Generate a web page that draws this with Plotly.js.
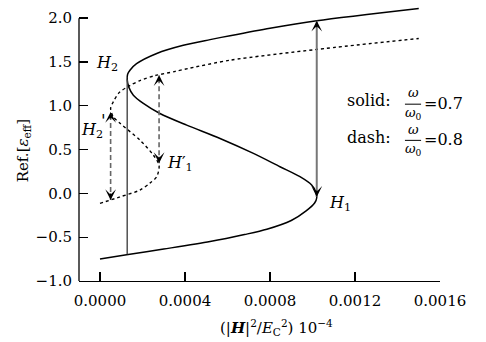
<!DOCTYPE html>
<html>
<head>
<meta charset="utf-8">
<script src="https://cdn.plot.ly/plotly-3.0.1.min.js"></script>
<style>html,body{margin:0;padding:0;background:#fff;}#chart{width:486px;height:342px;}</style>
</head>
<body>
<div id="chart"></div>
<script>
// Solid curve (omega/omega0 = 0.7), ordered along the curve
var solidX = [0.0, 0.000125, 0.00030, 0.000518, 0.00068, 0.000785, 0.00090, 0.00097, 0.00101, 0.00102, 0.001015, 0.000996, 0.000941, 0.000847, 0.000722, 0.000565, 0.000408, 0.000282, 0.000204, 0.000157, 0.000136, 0.000128, 0.000130, 0.000141, 0.000172, 0.000267, 0.000392, 0.000518, 0.000612, 0.0008, 0.00102, 0.0015];
var solidY = [-0.75, -0.70, -0.635, -0.55, -0.47, -0.41, -0.31, -0.20, -0.11, -0.05, 0.02, 0.095, 0.19, 0.304, 0.456, 0.627, 0.779, 0.912, 1.027, 1.121, 1.21, 1.30, 1.36, 1.406, 1.48, 1.597, 1.69, 1.755, 1.80, 1.885, 1.97, 2.11];
// Dashed curve (omega/omega0 = 0.8)
var dashX = [0.0, 0.000094, 0.000188, 0.000235, 0.000267, 0.000278, 0.000251, 0.000188, 0.000094, 0.0000627, 0.00005, 0.0000627, 0.00009, 0.00014, 0.00019, 0.00026, 0.00035, 0.000424, 0.000612, 0.00102, 0.0015];
var dashY = [-0.114, -0.04, 0.038, 0.117, 0.19, 0.32, 0.437, 0.608, 0.80, 0.874, 0.97, 1.045, 1.15, 1.23, 1.29, 1.345, 1.39, 1.43, 1.52, 1.643, 1.768];
// Jump lines / arrows: x, bottom y, top y
var jumpX    = [0.000128, 0.00102, 0.00005, 0.000278];
var jumpLow  = [-0.696, -0.04, -0.076, 0.345];
var jumpHigh = [1.30, 1.97, 0.93, 1.35];
var jumpHeads = [false, true, true, true];
var jumpDashed = [false, false, true, true];
// Tick labels
var xTicks = [0, 0.0004, 0.0008, 0.0012, 0.0016];
var xTickText = ['0.0000', '0.0004', '0.0008', '0.0012', '0.0016'];
var yTicks = [-1.0, -0.5, 0.0, 0.5, 1.0, 1.5, 2.0];
var yTickText = ['\u22121.0', '\u22120.5', '0.0', '0.5', '1.0', '1.5', '2.0'];

var FONT = 'DejaVu Serif, Liberation Serif, serif';

var traces = [
  {x: solidX, y: solidY, mode: 'lines', line: {color: '#000', width: 1.5, shape: 'spline', smoothing: 0.8}, hoverinfo: 'skip'},
  {x: dashX, y: dashY, mode: 'lines', line: {color: '#000', width: 1.4, dash: '3px,3px', shape: 'spline', smoothing: 0.8}, hoverinfo: 'skip'}
];

var shapes = [];
var annotations = [];
// y axis line only up to 2.0
shapes.push({type: 'line', xref: 'paper', yref: 'y', x0: 0, x1: 0, y0: yTicks[0], y1: yTicks[yTicks.length - 1], line: {color: '#000', width: 1.3}});

for (var i = 0; i < jumpX.length; i++) {
  var col = jumpDashed[i] ? '#666' : (jumpHeads[i] ? '#777' : '#444');
  shapes.push({type: 'line', xref: 'x', yref: 'y', x0: jumpX[i], x1: jumpX[i], y0: jumpLow[i], y1: jumpHigh[i],
    line: {color: col, width: jumpDashed[i] ? 1.6 : (jumpHeads[i] ? 2 : 1.4), dash: jumpDashed[i] ? '5px,3px' : 'solid'}});
  if (jumpHeads[i]) {
    annotations.push({x: jumpX[i], y: jumpHigh[i], xref: 'x', yref: 'y', ax: 0, ay: 8, text: '', showarrow: true,
      arrowhead: 3, arrowsize: 1.5, arrowwidth: 1.2, arrowcolor: '#000', standoff: 0});
    annotations.push({x: jumpX[i], y: jumpLow[i], xref: 'x', yref: 'y', ax: 0, ay: -8, text: '', showarrow: true,
      arrowhead: 3, arrowsize: 1.5, arrowwidth: 1.2, arrowcolor: '#000', standoff: 0});
  }
}

function lbl(x, y, t, size, anchor) {
  annotations.push({x: x, y: y, xref: 'x', yref: 'y', text: t, showarrow: false,
    xanchor: anchor || 'center', yanchor: 'middle', font: {family: FONT, size: size || 16, color: '#000'}});
}
// point labels
lbl(0.0000315, 1.486, '<i>H</i><sub>2</sub>', 16);
lbl(-0.000039, 0.72, '<i>H</i><sub>2</sub>', 16);
lbl(0.0000165, 0.84, "<i>'</i>", 17);
lbl(0.000376, 0.345, '<i>H</i>\u2032<sub>1</sub>', 16);
lbl(0.00113, -0.114, '<i>H</i><sub>1</sub>', 16);

// legend text with stacked fractions
lbl(0.001153, 1.064, 'solid:', 16, 'left');
lbl(0.001473, 1.15, '<i>\u03c9</i>', 13);
lbl(0.001473, 0.914, '<i>\u03c9</i><sub>0</sub>', 13);
lbl(0.001513, 1.03, '=0.7', 16, 'left');
shapes.push({type: 'line', xref: 'x', yref: 'y', x0: 0.001435, x1: 0.001511, y0: 1.018, y1: 1.018, line: {color: '#000', width: 1}});

lbl(0.001153, 0.641, 'dash:', 16, 'left');
lbl(0.001473, 0.73, '<i>\u03c9</i>', 13);
lbl(0.001473, 0.497, '<i>\u03c9</i><sub>0</sub>', 13);
lbl(0.001513, 0.61, '=0.8', 16, 'left');
shapes.push({type: 'line', xref: 'x', yref: 'y', x0: 0.001435, x1: 0.001511, y0: 0.605, y1: 0.605, line: {color: '#000', width: 1}});

// axis titles
annotations.push({xref: 'paper', yref: 'paper', x: -0.155, y: 0.47, text: 'Ref.[<i>\u03b5</i><sub>eff</sub>]', textangle: -90,
  showarrow: false, xanchor: 'center', yanchor: 'middle', font: {family: FONT, size: 15, color: '#000'}});
annotations.push({xref: 'paper', yref: 'paper', x: 0.548, y: -0.167, text: '(|<b><i>H</i></b>|<sup>2</sup>/<i>E</i><sub>C</sub><sup>2</sup>) 10<sup>\u22124</sup>',
  showarrow: false, xanchor: 'center', yanchor: 'middle', font: {family: FONT, size: 15, color: '#000'}});

var layout = {
  width: 486, height: 342,
  margin: {l: 79, r: 46, t: 5, b: 61, pad: 0},
  paper_bgcolor: '#fff', plot_bgcolor: '#fff',
  showlegend: false,
  font: {family: FONT, size: 15, color: '#000'},
  xaxis: {range: [-0.0000988, 0.0016], tickvals: xTicks, ticktext: xTickText, ticks: 'inside', ticklen: 9, tickwidth: 1.3,
    tickcolor: '#000', showline: true, linecolor: '#000', linewidth: 1.3, showgrid: false, zeroline: false,
    ticklabelstandoff: 6, tickfont: {family: FONT, size: 15}},
  yaxis: {range: [-1, 2.15], tickvals: yTicks, ticktext: yTickText, ticks: 'inside', ticklen: 9, tickwidth: 1.3,
    tickcolor: '#000', showline: false, showgrid: false, zeroline: false,
    ticklabelstandoff: 6, tickfont: {family: FONT, size: 15}},
  shapes: shapes,
  annotations: annotations
};
Plotly.newPlot('chart', traces, layout, {staticPlot: true, displayModeBar: false});
</script>
</body>
</html>
